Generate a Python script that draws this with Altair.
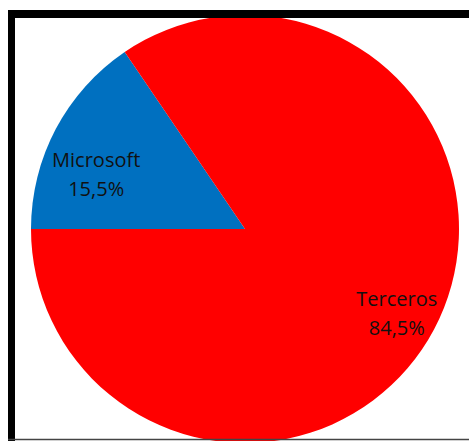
import math
import altair as alt
import pandas as pd

categories = ["Microsoft", "Terceros"]
values = [15.5, 84.5]
labels = ["15,5%", "84,5%"]
colors = ["#0070C0", "#FF0000"]

df = pd.DataFrame({
    "cat": categories,
    "value": values,
    "pct": labels,
    "order": [0, 1],
})
df["label"] = df["cat"] + "\n" + df["pct"]

start = 1.5 * math.pi
theta_scale = alt.Scale(range=[start, start + 2 * math.pi])

CX, CY = 245, 229

base = alt.Chart(df)

pie = base.mark_arc(radius=214, stroke=None).encode(
    theta=alt.Theta("value:Q", stack=True, scale=theta_scale),
    color=alt.Color("cat:N", scale=alt.Scale(domain=categories, range=colors), legend=None),
    order=alt.Order("order:Q"),
    x=alt.value(CX),
    y=alt.value(CY),
)


def label_layer(cat, dx, dy):
    return base.mark_text(
        radius=165, font="Open Sans", fontSize=20, lineBreak="\n",
        color="#111111", lineHeight=29, align="center", baseline="middle",
        dx=dx, dy=dy,
    ).encode(
        theta=alt.Theta("value:Q", stack=True, scale=theta_scale),
        order=alt.Order("order:Q"),
        text="label:N",
        opacity=alt.condition(alt.datum.cat == cat, alt.value(1), alt.value(0)),
        x=alt.value(CX),
        y=alt.value(CY),
    )


text_ms = label_layer("Microsoft", -3, 9)
text_te = label_layer("Terceros", 6, -6)

frame = pd.DataFrame({"k": [0]})
top = alt.Chart(frame).mark_rule(color="black", strokeWidth=8).encode(
    x=alt.value(8), x2=alt.value(469), y=alt.value(14), y2=alt.value(14))
left = alt.Chart(frame).mark_rule(color="black", strokeWidth=7).encode(
    x=alt.value(11.5), x2=alt.value(11.5), y=alt.value(10), y2=alt.value(441))
bottom = alt.Chart(frame).mark_rule(color="#444444", strokeWidth=1.5).encode(
    x=alt.value(8), x2=alt.value(469), y=alt.value(439.5), y2=alt.value(439.5))

chart = alt.layer(pie, text_ms, text_te, top, left, bottom).properties(
    width=469, height=441, autosize=alt.AutoSizeParams(type="none"), padding=0,
    background="white",
).configure_view(strokeWidth=0)

chart.save("out.html", embed_options={"renderer": "svg", "actions": False})
